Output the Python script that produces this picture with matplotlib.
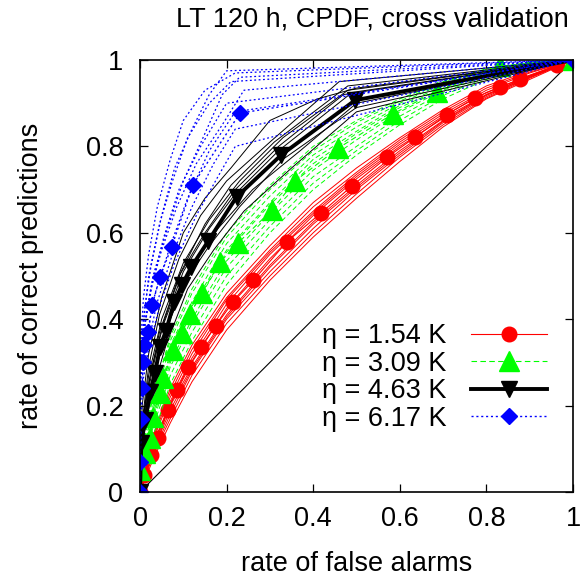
import matplotlib
matplotlib.use("Agg")
import matplotlib.pyplot as plt
from matplotlib.ticker import MultipleLocator, FuncFormatter

plt.rcParams['font.family'] = ['Liberation Sans', 'DejaVu Sans']
plt.rcParams['font.size'] = 19.5

# labels and legend texts
title = "LT 120 h, CPDF, cross validation"
xlabel = "rate of false alarms"
ylabel = "rate of correct predictions"
labels = ["η = 1.54 K", "η = 3.09 K", "η = 4.63 K", "η = 6.17 K"]

# marked (reference) ROC curves
red_x = [0, 0.01, 0.025, 0.042, 0.065, 0.085, 0.112, 0.14, 0.175, 0.215, 0.262, 0.339,
         0.417, 0.489, 0.571, 0.635, 0.708, 0.774, 0.831, 0.878, 0.962, 1]
red_y = [0, 0.04, 0.085, 0.124, 0.19, 0.236, 0.29, 0.335, 0.385, 0.44, 0.49, 0.579,
         0.645, 0.708, 0.775, 0.821, 0.873, 0.913, 0.937, 0.955, 0.988, 1]

green_x = [0, 0, 0.012, 0.023, 0.03, 0.046, 0.054, 0.077, 0.097, 0.115, 0.143, 0.185,
           0.227, 0.304, 0.358, 0.458, 0.585, 0.685, 0.832, 1]
green_y = [0, 0.05, 0.09, 0.125, 0.174, 0.23, 0.264, 0.329, 0.368, 0.411, 0.461, 0.532,
           0.577, 0.652, 0.72, 0.796, 0.876, 0.927, 0.985, 1]

black_x = [0, 0.003, 0.012, 0.024, 0.035, 0.046, 0.06, 0.079, 0.097, 0.118, 0.157,
           0.223, 0.326, 0.497, 1]
black_y = [0, 0.113, 0.167, 0.231, 0.276, 0.336, 0.373, 0.44, 0.479, 0.52, 0.58,
           0.683, 0.78, 0.907, 1]

blue_x = [0, 0, 0.003, 0.005, 0.007, 0.01, 0.019, 0.028, 0.046, 0.073, 0.122, 0.231, 1]
blue_y = [0, 0.07, 0.17, 0.24, 0.3, 0.34, 0.37, 0.432, 0.498, 0.567, 0.711, 0.877, 1]

# cross-validation folds (thin lines)
red_fold_x = [0, 0.03, 0.07, 0.12, 0.2, 0.3, 0.4, 0.5, 0.6, 0.7, 0.8, 0.9, 1]
red_fold_y = [
    [0, 0.13, 0.24, 0.34, 0.46, 0.57, 0.67, 0.75, 0.82, 0.885, 0.94, 0.975, 1],
    [0, 0.12, 0.22, 0.32, 0.445, 0.555, 0.65, 0.735, 0.81, 0.875, 0.93, 0.97, 1],
    [0, 0.09, 0.18, 0.28, 0.40, 0.51, 0.61, 0.70, 0.78, 0.855, 0.915, 0.96, 1],
    [0, 0.075, 0.16, 0.255, 0.375, 0.49, 0.59, 0.68, 0.765, 0.845, 0.91, 0.955, 1],
    [0, 0.10, 0.205, 0.30, 0.425, 0.54, 0.64, 0.725, 0.80, 0.865, 0.92, 0.962, 1],
    [0, 0.115, 0.20, 0.29, 0.41, 0.525, 0.625, 0.71, 0.79, 0.86, 0.92, 0.963, 1],
    [0, 0.105, 0.21, 0.31, 0.435, 0.55, 0.645, 0.73, 0.805, 0.87, 0.925, 0.965, 1],
    [0, 0.085, 0.17, 0.27, 0.39, 0.50, 0.60, 0.69, 0.775, 0.85, 0.912, 0.958, 1],
    [0, 0.125, 0.23, 0.33, 0.45, 0.56, 0.66, 0.74, 0.815, 0.88, 0.935, 0.972, 1],
    [0, 0.095, 0.19, 0.285, 0.405, 0.52, 0.62, 0.705, 0.785, 0.858, 0.918, 0.96, 1],
]

green_fold_x = [0, 0.01, 0.03, 0.07, 0.12, 0.2, 0.3, 0.4, 0.5, 0.6, 0.7, 0.8, 0.9, 1]
green_fold_y = [
    [0, 0.12, 0.22, 0.36, 0.47, 0.60, 0.71, 0.80, 0.86, 0.91, 0.95, 0.98, 0.995, 1],
    [0, 0.10, 0.20, 0.34, 0.44, 0.575, 0.685, 0.78, 0.845, 0.90, 0.945, 0.975, 0.993, 1],
    [0, 0.08, 0.16, 0.29, 0.39, 0.52, 0.63, 0.73, 0.80, 0.87, 0.925, 0.965, 0.99, 1],
    [0, 0.06, 0.13, 0.25, 0.35, 0.48, 0.60, 0.70, 0.78, 0.85, 0.91, 0.955, 0.985, 1],
    [0, 0.09, 0.18, 0.31, 0.42, 0.555, 0.665, 0.76, 0.83, 0.89, 0.935, 0.97, 0.99, 1],
    [0, 0.11, 0.19, 0.32, 0.43, 0.56, 0.67, 0.77, 0.835, 0.895, 0.94, 0.972, 0.992, 1],
    [0, 0.07, 0.15, 0.27, 0.37, 0.50, 0.615, 0.715, 0.79, 0.86, 0.918, 0.96, 0.988, 1],
    [0, 0.13, 0.23, 0.35, 0.46, 0.59, 0.70, 0.79, 0.855, 0.905, 0.948, 0.978, 0.994, 1],
    [0, 0.085, 0.17, 0.30, 0.40, 0.535, 0.645, 0.745, 0.815, 0.88, 0.93, 0.968, 0.99, 1],
]

black_fold_x = [
    [0, 0.005, 0.02, 0.05, 0.1, 0.15, 0.21, 0.3, 0.41, 0.5, 1],
    [0, 0.005, 0.02, 0.05, 0.1, 0.16, 0.23, 0.33, 0.48, 1],
    [0, 0.004, 0.02, 0.05, 0.1, 0.16, 0.23, 0.33, 0.5, 1],
    [0, 0.003, 0.025, 0.06, 0.11, 0.17, 0.24, 0.35, 0.5, 1],
    [0, 0.004, 0.02, 0.045, 0.09, 0.15, 0.22, 0.32, 0.47, 1],
    [0, 0.006, 0.02, 0.045, 0.09, 0.14, 0.2, 0.3, 0.46, 1],
    [0, 0.004, 0.03, 0.07, 0.12, 0.18, 0.26, 0.37, 0.5, 1],
    [0, 0.005, 0.025, 0.055, 0.1, 0.16, 0.22, 0.32, 0.49, 1],
    [0, 0.004, 0.02, 0.05, 0.095, 0.15, 0.21, 0.31, 0.48, 1],
]
black_fold_y = [
    [0, 0.2, 0.32, 0.45, 0.6, 0.68, 0.75, 0.86, 0.91, 0.935, 1],
    [0, 0.15, 0.27, 0.40, 0.53, 0.63, 0.72, 0.82, 0.93, 1],
    [0, 0.12, 0.23, 0.35, 0.48, 0.57, 0.66, 0.77, 0.89, 1],
    [0, 0.1, 0.22, 0.34, 0.47, 0.56, 0.65, 0.75, 0.88, 1],
    [0, 0.14, 0.25, 0.37, 0.5, 0.6, 0.70, 0.8, 0.92, 1],
    [0, 0.17, 0.29, 0.41, 0.54, 0.64, 0.72, 0.81, 0.95, 1],
    [0, 0.13, 0.26, 0.40, 0.52, 0.61, 0.70, 0.79, 0.9, 1],
    [0, 0.16, 0.28, 0.39, 0.51, 0.61, 0.69, 0.79, 0.925, 1],
    [0, 0.12, 0.24, 0.38, 0.51, 0.62, 0.71, 0.81, 0.94, 1],
]

blue_fold_x = [
    [0, 0, 0.01, 0.025, 0.05, 0.08, 0.12, 0.16, 0.2, 1],
    [0, 0, 0.012, 0.03, 0.06, 0.1, 0.15, 0.19, 0.23, 1],
    [0, 0, 0.015, 0.035, 0.07, 0.11, 0.16, 0.22, 1],
    [0, 0, 0.02, 0.045, 0.08, 0.13, 0.18, 0.22, 1],
    [0, 0, 0.008, 0.02, 0.04, 0.07, 0.1, 0.15, 0.22, 1],
    [0, 0, 0.01, 0.025, 0.05, 0.085, 0.13, 0.19, 0.24, 1],
    [0, 0, 0.02, 0.04, 0.075, 0.12, 0.17, 0.22, 1],
    [0, 0, 0.012, 0.03, 0.055, 0.09, 0.14, 0.2, 1],
    [0, 0, 0.01, 0.02, 0.045, 0.075, 0.11, 0.16, 0.21, 1],
]
blue_fold_y = [
    [0, 0.3, 0.42, 0.52, 0.64, 0.75, 0.84, 0.92, 0.975, 1],
    [0, 0.28, 0.40, 0.5, 0.6, 0.72, 0.83, 0.92, 0.96, 1],
    [0, 0.25, 0.36, 0.46, 0.57, 0.68, 0.79, 0.88, 1],
    [0, 0.22, 0.33, 0.43, 0.53, 0.64, 0.73, 0.80, 1],
    [0, 0.32, 0.45, 0.55, 0.66, 0.77, 0.86, 0.93, 0.97, 1],
    [0, 0.26, 0.38, 0.47, 0.56, 0.66, 0.76, 0.85, 0.93, 1],
    [0, 0.24, 0.35, 0.44, 0.55, 0.66, 0.76, 0.84, 1],
    [0, 0.27, 0.39, 0.49, 0.59, 0.7, 0.8, 0.9, 1],
    [0, 0.29, 0.41, 0.5, 0.62, 0.72, 0.82, 0.9, 0.95, 1],
]

fig = plt.figure(figsize=(5.8, 5.79), dpi=100)
ax = fig.add_axes([140 / 580, 1 - 492 / 579, 433 / 580, 432 / 579])

ax.plot([0, 1], [0, 1], color='black', lw=0.8)

# red
for ys in red_fold_y:
    ax.plot(red_fold_x, ys, color='red', lw=0.7)
ax.plot(red_x, red_y, color='red', lw=0.8, marker='o', ms=10.5, label=labels[0])

# green
for ys in green_fold_y:
    ax.plot(green_fold_x, ys, color='#00ff00', lw=0.7, ls=(0, (5, 3)))
ax.plot(green_x, green_y, color='#00ff00', lw=0.8, ls=(0, (5, 3)), marker='^', ms=14,
        label=labels[1])

# black
for xs, ys in zip(black_fold_x, black_fold_y):
    ax.plot(xs, ys, color='black', lw=0.7)
ax.plot(black_x, black_y, color='black', lw=2.8, marker='v', ms=11, label=labels[2])

# blue
for xs, ys in zip(blue_fold_x, blue_fold_y):
    ax.plot(xs, ys, color='blue', lw=0.9, ls=(0, (1.5, 2)))
ax.plot(blue_x, blue_y, color='blue', lw=1.0, ls=(0, (1.5, 2)), marker='D', ms=8,
        label=labels[3])

ax.set_xlim(0, 1)
ax.set_ylim(0, 1)
fmt = FuncFormatter(lambda v, p: "%g" % round(v, 2))
for axis in (ax.xaxis, ax.yaxis):
    axis.set_major_locator(MultipleLocator(0.2))
    axis.set_major_formatter(fmt)
ax.tick_params(direction='in', length=6, width=0.9, top=True, right=True)
ax.tick_params(axis='y', pad=12)
ax.tick_params(axis='x', pad=10)
for s in ax.spines.values():
    s.set_linewidth(1.2)

ax.set_title(title, pad=24, fontsize=19.5, x=0.537)
ax.set_xlabel(xlabel, labelpad=14)
ax.set_ylabel(ylabel, labelpad=30)

ax.legend(loc='lower right', bbox_to_anchor=(0.94, 0.14), frameon=False, markerfirst=False,
          numpoints=1, handlelength=2.8, labelspacing=0.05, handletextpad=0.9,
          borderpad=0, borderaxespad=0)

fig.savefig("out.png", dpi=100)
